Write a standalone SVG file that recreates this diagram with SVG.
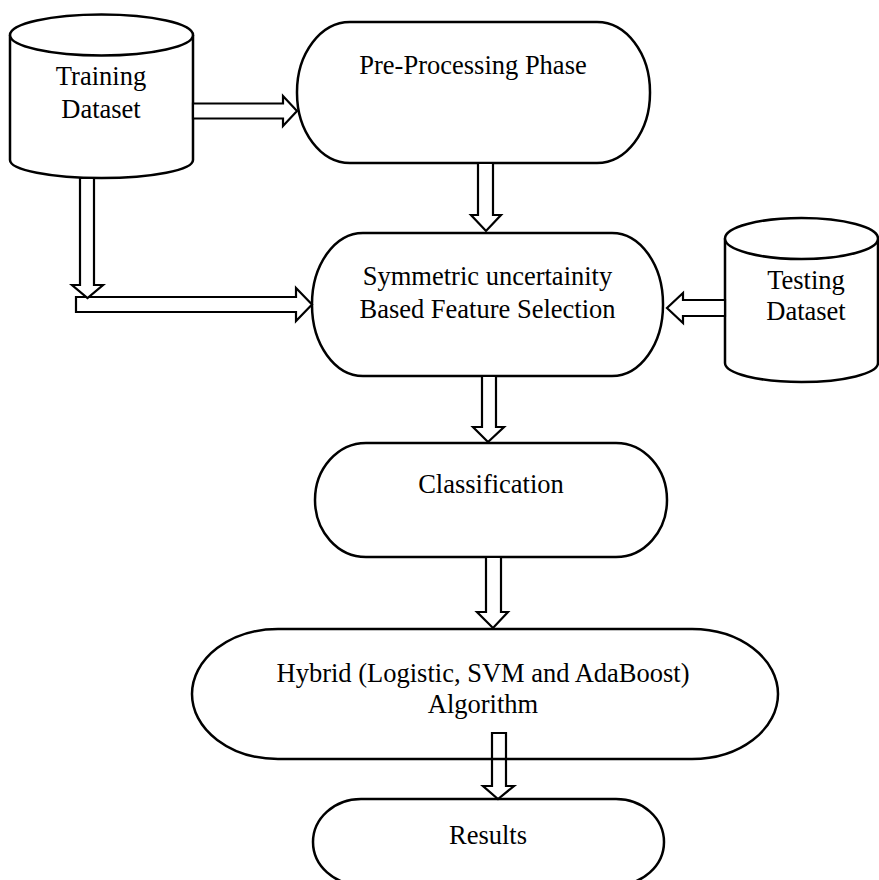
<svg xmlns="http://www.w3.org/2000/svg" width="879" height="880" viewBox="0 0 879 880">
<style>
.shape{fill:#fff;stroke:#000;stroke-width:2.5}
.arrow{fill:#fff;stroke:#000;stroke-width:2.2;stroke-linejoin:miter}
.arrow-open{fill:none;stroke:#000;stroke-width:2.2}
text{font-family:"Liberation Serif","Times New Roman",serif;font-size:26.5px;fill:#000;text-anchor:middle}
</style>
<rect width="879" height="880" fill="#fff"/>
<g id="training-dataset">
<path class="shape" d="M10,35 L10,160 A91.5,18 0 0 0 193,160 L193,35"/>
<ellipse class="shape" cx="101.5" cy="35" rx="91.5" ry="20.5"/>
<text x="101" y="85">Training</text>
<text x="101" y="118">Dataset</text>
</g>
<g id="pre-processing">
<rect class="shape" x="297" y="22" width="353" height="141" rx="53" ry="70"/>
<text x="473" y="74">Pre-Processing Phase</text>
</g>
<g id="testing-dataset">
<path class="shape" d="M725,238.5 L725,363 A76.5,19 0 0 0 878,363 L878,238.5"/>
<ellipse class="shape" cx="801.5" cy="238.5" rx="76.5" ry="20.5"/>
<text x="806" y="289">Testing</text>
<text x="806" y="320">Dataset</text>
</g>
<g id="feature-selection">
<rect class="shape" x="312" y="233" width="351" height="143" rx="51" ry="71"/>
<text x="487.5" y="285">Symmetric uncertainity</text>
<text x="487.5" y="318">Based Feature Selection</text>
</g>
<g id="classification">
<rect class="shape" x="315" y="443" width="352" height="114" rx="51" ry="57"/>
<text x="491" y="493">Classification</text>
</g>
<g id="hybrid">
<rect class="shape" x="192" y="629" width="586" height="130" rx="86" ry="65"/>
<text x="483" y="682">Hybrid (Logistic, SVM and AdaBoost)</text>
<text x="483" y="713">Algorithm</text>
</g>
<g id="results">
<rect class="shape" x="313" y="799" width="351" height="86" rx="48" ry="43"/>
<text x="488" y="844">Results</text>
</g>
<g id="connectors">
<polygon class="arrow" points="193,103.5 283,103.5 283,96 297,111 283,126 283,118.5 193,118.5"/>
<polygon class="arrow" points="478,163 493,163 493,215 501,215 486,231 471,215 478,215"/>
<polygon class="arrow" points="76,297 296,297 296,288 312,304.5 296,321 296,312 76,312"/>
<polygon class="arrow" points="80,178 94,178 94,285 103,285 87.5,298 72,285 80,285"/>
<polygon class="arrow" points="725,300 683,300 683,293 667,308 683,323 683,316 725,316"/>
<polygon class="arrow" points="482,376 496,376 496,427 504,427 488,442 473,427 482,427"/>
<polygon class="arrow" points="486,557 501,557 501,612 508,612 493,628 477,612 486,612"/>
<polygon class="arrow-open" points="492,733 506,733 506,786 514,786 498,799 483,786 492,786"/>
</g>
</svg>
